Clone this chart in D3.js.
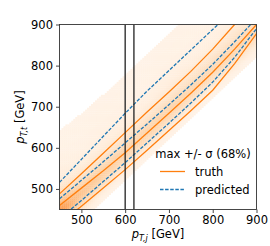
<!DOCTYPE html>
<html>
<head>
<meta charset="utf-8">
<script src="https://cdn.jsdelivr.net/npm/d3@7"></script>
<style>
  body { margin: 0; background: #fff; }
  svg text { font-family: "DejaVu Sans", sans-serif; fill: #000; }
</style>
</head>
<body>
<div id="chart"></div>
<script>
// line x positions (GeV) and y values
var lineX = [450, 500, 550, 600, 650, 700, 750, 800, 850, 900];
var truthUp = [488, 537, 587, 637, 687, 736, 786, 840, 900, 960];
var truthMax = [460, 502, 544, 588, 636, 684, 733, 784, 840, 900];
var truthLow = [415, 458, 502, 547, 594, 642, 690, 740, 805, 878];
var predUp = [516, 572, 628, 684, 738, 788, 838, 888, 937, 987];
var predMid = [476, 521, 566, 612, 658, 705, 753, 803, 858, 915];
var predLow = [427, 472, 518, 564, 612, 660, 709, 760, 820, 890];

// histogram shape: density vs offset (p_T,t - p_T,j) and weight per p_T,j column
var profileOffset = [-80, -70, -60, -50, -40, -30, -20, -10, 0, 10, 20, 30, 40, 50, 60, 80, 100, 120, 140, 160, 180, 200];
var profileLevel = [0, 0.02, 0.08, 0.2, 0.34, 0.46, 0.55, 0.6, 0.55, 0.45, 0.36, 0.28, 0.21, 0.15, 0.1, 0.06, 0.035, 0.022, 0.013, 0.008, 0.004, 0];
var columnX = [450, 475, 500, 550, 600, 700, 800, 900];
var columnWeight = [2.2, 1.6, 1.25, 1.0, 0.95, 0.9, 0.85, 0.85];

var xTicks = [500, 600, 700, 800, 900];
var yTicks = [500, 600, 700, 800, 900];
var cutLines = [600, 620];

var W = 270, H = 246;
var m = {left: 59.5, top: 24.5, width: 197, height: 185};

var svg = d3.select("#chart").append("svg")
  .attr("width", W).attr("height", H);

var x = d3.scaleLinear().domain([450, 900]).range([0, m.width]);
var y = d3.scaleLinear().domain([450, 900]).range([m.height, 0]);

var g = svg.append("g").attr("transform", "translate(" + m.left + "," + m.top + ")");

svg.append("defs").append("clipPath").attr("id", "clip")
  .append("rect").attr("width", m.width).attr("height", m.height);

var plot = g.append("g").attr("clip-path", "url(#clip)");

// 2d histogram
var prof = d3.scaleLinear().domain(profileOffset).range(profileLevel).clamp(true);
var colW = d3.scaleLinear().domain(columnX).range(columnWeight).clamp(true);
var binW = 4.5;
var cells = [];
for (var bx = 450; bx < 900; bx += binW) {
  for (var by = 450; by < 900; by += binW) {
    var v = prof(by + binW / 2 - (bx + binW / 2)) * colW(bx + binW / 2);
    if (v > 0.004) cells.push({x: bx, y: by, v: v});
  }
}
plot.selectAll("rect.cell").data(cells).enter().append("rect")
  .attr("class", "cell")
  .attr("x", function(d) { return x(d.x); })
  .attr("y", function(d) { return y(d.y + binW); })
  .attr("width", x(450 + binW) - x(450) + 0.3)
  .attr("height", y(450) - y(450 + binW) + 0.3)
  .attr("fill", function(d) { return d3.interpolateOranges(Math.min(0.6, 0.02 + d.v * 0.36)); });

var line = d3.line()
  .x(function(d) { return x(d[0]); })
  .y(function(d) { return y(d[1]); })
  .curve(d3.curveLinear);

function zipLine(ys) { return lineX.map(function(v, i) { return [v, ys[i]]; }); }

[truthUp, truthMax, truthLow].forEach(function(ys) {
  plot.append("path").datum(zipLine(ys)).attr("d", line)
    .attr("fill", "none").attr("stroke", "#ff7f0e").attr("stroke-width", 1.3);
});
[predUp, predMid, predLow].forEach(function(ys) {
  plot.append("path").datum(zipLine(ys)).attr("d", line)
    .attr("fill", "none").attr("stroke", "#1f77b4").attr("stroke-width", 1.3)
    .attr("stroke-dasharray", "3.5,1.6");
});

// vertical cut lines
plot.selectAll("line.cut").data(cutLines).enter().append("line")
  .attr("x1", function(d) { return x(d); }).attr("x2", function(d) { return x(d); })
  .attr("y1", 0).attr("y2", m.height)
  .attr("stroke", "#222").attr("stroke-width", 1.3);

// axes
var xAxis = g.append("g").attr("transform", "translate(0," + m.height + ")")
  .call(d3.axisBottom(x).tickValues(xTicks).tickSize(3.5).tickPadding(3));
var yAxis = g.append("g")
  .call(d3.axisLeft(y).tickValues(yTicks).tickSize(3.5).tickPadding(3));
[xAxis, yAxis].forEach(function(a) {
  a.select(".domain").remove();
  a.selectAll("line").attr("stroke", "#333").attr("stroke-width", 0.9);
  a.selectAll("text").style("font-size", "11.5px").style("font-family", "DejaVu Sans");
});

g.append("rect").attr("width", m.width).attr("height", m.height)
  .attr("fill", "none").attr("stroke", "#333").attr("stroke-width", 0.9);

// axis labels
var xl = svg.append("text").attr("x", m.left + m.width / 2).attr("y", 238)
  .attr("text-anchor", "middle").style("font-size", "11.5px");
xl.append("tspan").style("font-style", "italic").text("p");
xl.append("tspan").attr("dy", 2.5).style("font-size", "8px").style("font-style", "italic").text("T,j");
xl.append("tspan").attr("dy", -2.5).text(" [GeV]");

var yl = svg.append("text").attr("transform", "translate(24," + (m.top + m.height / 2) + ") rotate(-90)")
  .attr("text-anchor", "middle").style("font-size", "11.5px");
yl.append("tspan").style("font-style", "italic").text("p");
yl.append("tspan").attr("dy", 2.5).style("font-size", "8px").style("font-style", "italic").text("T,t");
yl.append("tspan").attr("dy", -2.5).text(" [GeV]");

// legend
var lg = svg.append("g");
lg.append("text").attr("x", 203).attr("y", 157.5).attr("text-anchor", "middle")
  .style("font-size", "11.5px").text("max +/- \u03c3 (68%)");
var legendItems = [
  {label: "truth", color: "#ff7f0e", dash: null, y: 171.5},
  {label: "predicted", color: "#1f77b4", dash: "3.5,1.6", y: 189.5}
];
legendItems.forEach(function(it) {
  lg.append("line").attr("x1", 160).attr("x2", 185).attr("y1", it.y).attr("y2", it.y)
    .attr("stroke", it.color).attr("stroke-width", 1.3)
    .attr("stroke-dasharray", it.dash);
  lg.append("text").attr("x", 195).attr("y", it.y + 4).style("font-size", "11.5px").text(it.label);
});
</script>
</body>
</html>
